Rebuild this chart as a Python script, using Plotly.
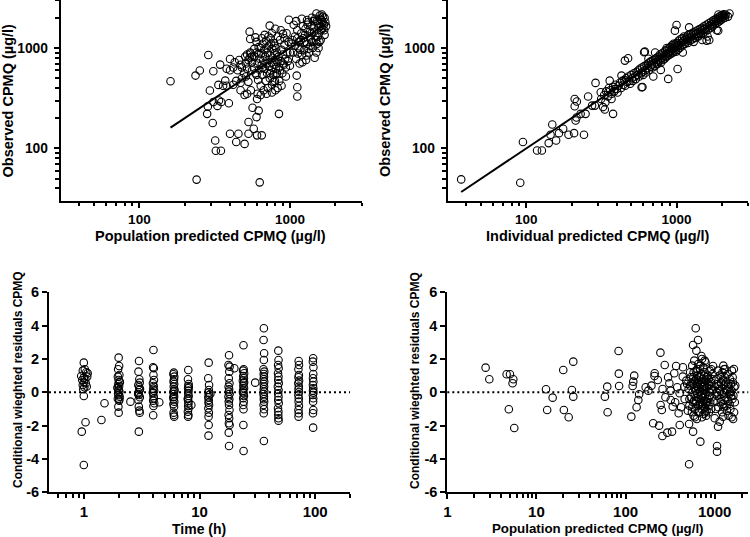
import plotly.graph_objects as go
import math

# ---------------- Panel 1: population predicted vs observed ----------------
pred_pop = [161,236,252,287,240,630,310,282,294,307,319,322,348,338,335,344,393,372,400,400,440,455,500,531,531,565,605,575,605,650,620,600,846,1110,1120,1120,1000,985,540,545,734,590,
            285,310,330,350,360,380,420,430,470,450,400,380,420,440,480,470,500,520,510,530,520,550,560,600,
            560,575,580,590,600,610,615,620,625,630,640,645,650,655,660,665,670,675,680,685,690,695,700,705,710,715,720,725,730,735,740,745,750,755,760,765,770,775,780,785,790,795,800,805,810,815,820,825,830,840,850,860,870,880,890,900,910,920,930,940,950,960,970,980,
            520,530,540,550,545,510,495,505,480,470,460,610,640,700,760,800,850,880,720,680,650,760,800,830,870,900,920,640,600,580,700,750,790,560,620,660,740,780,820,860,900,940,
            1020,1050,1080,1100,1120,1140,1160,1180,1200,1220,1240,1260,1280,1300,1320,1340,1360,1380,1400,1420,1440,1460,1480,1500,1520,1540,1560,1580,1600,1620,1640,1660,1680,1700,1720,
            1250,1350,1450,1550,1650,1150,1190,1230,1270,1310,1390,1430,1470,1510,1590,1630,1130,1170,1210,1290,1330,1370,1410,1490,1530,1570,1610,1690,1060,1100,1200,1300,1080,1120,1000,1040,1500,1550,1600,1700,1740]
obs_pop = [467,531,596,852,49,46,586,221,377,179,120,95,95,300,429,683,282,473,776,140,116,140,111,140,183,254,311,157,135,135,238,205,221,531,407,329,667,1911,1452,1228,1667,1275,
           262,290,265,290,420,620,640,720,680,600,600,420,430,470,500,380,340,350,520,760,860,880,820,540,
           720,640,820,560,900,700,480,1020,610,780,420,880,680,540,1100,750,380,960,620,820,470,1180,700,560,900,400,760,1050,650,500,840,1250,600,720,430,980,800,540,680,1120,880,470,760,620,1000,560,900,720,400,820,640,1200,740,960,560,860,680,1080,780,520,1400,900,740,1150,
           620,460,800,380,900,700,560,820,640,450,760,350,340,350,360,380,470,420,1300,1350,1250,1400,1550,1300,1500,1380,1250,1000,1150,980,1000,1100,1050,600,880,640,560,460,560,600,700,640,
           1100,900,1300,780,1500,1000,700,1200,850,1650,950,1350,760,1100,1800,900,1450,1200,2000,1000,1600,800,1300,2200,1100,1750,1400,2100,1200,1900,1550,2050,1700,1350,1800,
           1150,1300,1450,1600,1800,1150,1400,1250,1550,1700,1650,1850,1950,1850,1950,2150,880,960,720,840,980,1050,1150,1200,1300,1150,1500,1500,1700,1850,1950,1900,1050,1250,900,1200,900,1000,1650,2000,1650]

# ---------------- Panel 2: individual predicted vs observed ----------------
pred_ind = [36.9,91.2,95,118,127,141,145,149,158,165,176,191,208,210,210,217,213,216,230,242,248,258,274,289,286,313,315,324,333,336,359,369,378,388,430,453,476,
            330,340,350,355,362,370,378,385,392,400,405,412,420,428,435,442,450,455,462,470,478,485,492,500,505,512,520,528,535,542,550,558,565,572,580,588,595,600,610,618,625,632,640,648,655,662,670,678,685,692,700,708,715,722,730,738,745,752,760,768,775,782,790,798,805,812,820,828,835,842,850,858,865,872,880,888,895,902,910,918,925,932,940,948,955,962,970,978,985,992,
            1000,1010,1020,1030,1040,1050,1060,1070,1080,1090,1100,1110,1120,1130,1140,1150,1160,1170,1180,1190,1200,1215,1230,1245,1260,1275,1290,1305,1320,1335,1350,1365,1380,1395,1410,1425,1440,1455,1470,1485,1500,1520,1540,1560,1580,1600,1620,1640,1660,1680,1700,1720,1740,1760,1780,1800,1820,1840,1860,1880,1900,1920,1940,1960,1980,2000,2020,2040,2060,2080,2100,2120,1900,1850,1650,1480,1610,2250,2200,
            1000,1213,975,1892,1585,1016,785,593,615,608,880,585,700,650,720,860,1300,1100,1400]
obs_ind = [49.2,45.6,116,95.5,95.5,113,137,173,120,142,157,137,142,263,311,293,190,203,221,137,221,329,267,449,267,363,311,258,244,289,473,311,221,391,531,748,789,
           340,370,330,400,380,350,410,370,430,390,360,420,450,400,470,430,480,420,500,460,520,470,440,540,500,470,560,520,490,580,540,600,520,620,560,640,580,540,660,600,570,680,630,700,600,720,650,740,680,640,760,700,660,780,720,800,690,760,820,740,860,780,720,880,800,760,900,840,780,940,860,820,960,880,840,990,900,860,1020,940,880,1060,980,900,1100,1000,950,1080,1020,920,
           1120,1060,960,1180,1080,1000,1220,1120,1040,1250,1160,1080,1300,1200,1100,1240,1160,1300,1220,1120,1350,1260,1180,1380,1300,1220,1420,1340,1260,1460,1380,1300,1500,1420,1330,1540,1460,1380,1580,1500,1400,1640,1540,1460,1700,1600,1520,1760,1660,1580,1820,1720,1640,1880,1800,1720,1940,1860,1780,2000,1920,1840,2060,1980,1900,2120,2040,1960,2160,2080,2000,2140,2150,1500,1200,1200,1300,2200,2050,
           1692,1604,1486,1486,1183,618,605,408,919,906,492,407,520,780,900,1000,1150,900,1300]

# ---------------- Panel 3: CWRES vs time ----------------
t_c1 = [1.0,1.02,0.98,1.05,1.08,0.95,1.07,1.0,1.03,0.97,1.0,1.04,0.98,1.06,1.01,0.99,1.0,1.035,0.96,1.0]
r_c1 = [1.78,1.38,1.3,1.2,1.14,0.98,0.94,0.88,0.8,0.74,0.6,0.54,0.44,0.35,0.3,0.18,-0.22,-1.8,-2.36,-4.36]
t_c2 = [2.0,2.02,1.98,2.03,1.97,2.0,2.04,1.99,2.02,1.96,2.01,2.03,1.98,2.0,2.04,1.97,2.02,1.99,2.0,2.05,1.96,2.03]
r_c2 = [2.08,1.58,1.38,1.04,0.94,0.74,0.64,0.5,0.38,0.24,0.14,0.04,-0.06,-0.16,-0.26,-0.38,-0.5,-0.86,-1.22,0.6,0.3,-0.4]
t_c3 = [3.0,2.97,3.02,3.04,2.96,3.01,3.03,2.98,3.0,3.05,2.97,2.99,3.02,3.04,2.99,3.06,2.95]
r_c3 = [1.88,1.24,0.78,0.58,0.44,0.3,0.14,0.0,-0.16,-0.3,-0.46,-0.86,-1.1,-1.22,-2.36,0.2,-0.1]
t_c4 = [4.0,3.97,4.03,4.0,4.04,3.96,4.02,3.99,4.05,3.97,4.01,4.03,3.98,4.06,4.0,3.98,3.95]
r_c4 = [2.54,1.5,1.44,1.04,0.74,0.54,0.38,0.22,0.1,-0.06,-0.22,-0.36,-0.5,-0.66,-0.82,-1.38,0.0]
t_c6 = [6.0,5.95,6.05,6.02,5.97,6.04,5.99,6.06,5.96,6.01,6.03,5.98,6.05,5.95,6.02,5.97,6.0,6.04,6.07,5.93]
r_c6 = [1.18,1.08,0.94,0.78,0.64,0.5,0.34,0.18,0.04,-0.1,-0.26,-0.42,-0.56,-0.7,-0.86,-1.22,-1.36,-1.46,0.1,-0.3]
t_c8 = [8.0,7.95,8.05,8.02,7.97,8.04,7.99,8.06,7.96,8.01,8.03,7.98,8.05,7.94,8.02,7.97,8.08,7.92]
r_c8 = [1.34,0.78,0.5,0.38,0.24,0.1,-0.06,-0.22,-0.36,-0.52,-0.66,-0.82,-0.96,-1.16,-1.36,-1.46,0.3,-0.4]
t_c12 = [12.0,11.9,12.1,12.05,11.95,12.08,11.92,12.02,11.97,12.1,11.93,12.04,11.98,12.0,11.96,12.4]
r_c12 = [1.78,0.84,0.44,0.14,-0.02,-0.16,-0.3,-0.46,-0.62,-0.76,-0.96,-1.22,-1.46,-1.96,-2.6,-0.1]
t_c18 = [18.0,17.8,18.2,18.1,17.9,18.15,17.85,18.05,17.95,18.2,17.8,18.1,17.9,18.0,18.15,17.85,18.05,17.95,18.2,17.9,18.0]
r_c18 = [2.22,1.64,1.54,1.24,0.84,0.54,0.34,0.18,0.04,-0.1,-0.26,-0.42,-0.56,-0.76,-1.06,-1.36,-1.56,-1.86,-1.96,-2.42,-3.22]
t_c24 = [24.0,24.1,23.8,24.3,23.9,24.2,23.7,24.1,23.95,24.25,23.8,24.05,24.2,23.85,24.1,23.9,24.0,23.95,24.05,24.3,23.75]
r_c24 = [2.82,1.38,1.3,1.14,0.98,0.84,0.7,0.54,0.38,0.24,0.1,-0.06,-0.22,-0.36,-0.56,-0.76,-1.02,-1.96,-3.52,0.6,0.0]
t_c36 = [36.0,35.8,36.2,36.0,35.7,36.3,35.9,36.1,35.8,36.25,35.85,36.15,35.9,36.3,35.75,36.05,35.95,36.2,35.8,36.1,35.9,36.0]
r_c36 = [3.84,3.14,2.34,1.94,1.38,1.24,1.1,0.94,0.78,0.64,0.5,0.34,0.18,0.04,-0.1,-0.26,-0.42,-0.56,-0.76,-1.02,-1.26,-2.92]
t_c48 = [48.0,48.2,47.8,48.3,47.7,48.1,47.9,48.4,47.6,48.2,47.85,48.15,47.9,48.35,47.7,48.05,47.95,48.1,48.2]
r_c48 = [2.5,1.94,1.64,1.44,1.14,0.94,0.74,0.54,0.34,0.14,-0.06,-0.26,-0.46,-0.66,-0.96,-1.16,-1.36,-1.56,-1.7]
t_c72 = [72.0,72.4,71.6,72.3,71.7,72.5,71.5,72.2,71.8,72.4,71.6,72.1,71.9,72.3,71.7,72.0,71.8]
r_c72 = [1.88,1.64,1.38,1.04,0.9,0.7,0.54,0.34,0.18,0.02,-0.16,-0.36,-0.56,-0.82,-1.06,-1.26,-1.46]
t_c96 = [96.0,95.5,96.5,96.2,95.7,96.4,95.6,96.3,95.8,96.5,95.5,96.1,95.9,96.3,95.7,96.0]
r_c96 = [2.04,1.84,1.5,1.1,0.84,0.64,0.44,0.24,0.1,-0.02,-0.16,-0.36,-0.56,-1.06,-1.26,-2.12]
t_extra = [1.51,1.42,2.53,4.49,8.5,20.0,30.3]
r_extra = [-0.66,-1.66,-0.56,-0.6,-0.76,1.44,0.58]

time_h = t_c1 + t_c2 + t_c3 + t_c4 + t_c6 + t_c8 + t_c12 + t_c18 + t_c24 + t_c36 + t_c48 + t_c72 + t_c96 + t_extra
cwres_t = r_c1 + r_c2 + r_c3 + r_c4 + r_c6 + r_c8 + r_c12 + r_c18 + r_c24 + r_c36 + r_c48 + r_c72 + r_c96 + r_extra

# ---------------- Panel 4: CWRES vs population predicted ----------------
pred_pop4 = [2.69,2.96,4.63,5.05,4.9,5.5,5.4,5.64,12.8,13.2,15.2,20,20.3,23,25,25.9,25.9,58.6,62.3,62.9,83.5,84,84.6,120,122,125,116,133,139,142,
             168,212,204,238,246,259,275,294,332,405,516,572,690,516,1062,1062,1090,1137,1000,1240,958,1272,917,612,650,572,623,709,773,
             211,230,247,255,321,338,310,352,369,394,404,438,456,180,195,260,280,300,320,360,380,420,440,460,480,
             510,520,530,540,550,555,560,565,570,575,580,585,590,595,600,605,610,615,620,625,630,635,640,645,650,655,660,665,670,675,680,685,690,695,700,705,710,715,720,725,730,735,740,745,750,755,760,765,770,775,780,785,790,795,800,810,820,830,840,850,860,870,880,890,900,910,920,930,940,950,
             560,590,620,650,680,710,740,770,800,830,600,640,700,760,820,880,540,580,660,720,780,860,690,630,570,750,810,870,610,730,790,850,910,520,500,490,530,
             1000,1020,1040,1060,1080,1100,1120,1140,1160,1180,1200,1220,1240,1260,1280,1300,1320,1340,1360,1380,1400,1420,1440,1460,1480,1500,1520,1540,1560,1580,1600,1620,1640,1660,1680,1700,
             1050,1110,1170,1230,1290,1350,1410,1470,1530,1590,1650,1310,1250,1190,1370,1430,1550,1610,1490,1030,1090,1150,1210,1270]
cwres_p4 = [1.48,0.78,1.08,1.08,-1.02,0.78,0.54,-2.14,0.18,-1.06,-0.32,1.34,-1.06,-1.5,0.14,-0.26,1.84,-0.26,0.34,-1.2,2.48,1.12,0.38,0.38,0.64,1.0,-1.46,-0.9,-0.46,-0.12,
            0.3,1.14,-1.86,-2.0,2.38,-2.62,1.64,-2.42,-2.36,-1.96,-1.9,-2.36,-2.96,-4.32,-3.22,-3.56,-2.06,-1.76,-1.56,-1.46,1.58,1.38,1.38,3.84,3.14,2.84,2.5,2.18,1.9,
            0.98,0.74,-0.76,-1.06,-0.46,-0.86,0.54,1.14,1.58,-1.26,-0.06,0.94,0.34,0.1,0.4,0.2,-0.3,0.9,0.1,-0.6,0.3,-0.9,1.5,-0.4,0.7,
            0.2,-0.8,1.2,-0.3,0.6,-1.2,1.6,0.0,-0.6,0.9,-1.4,0.3,1.9,-0.2,0.7,-1.0,0.1,1.3,-0.5,0.4,-1.6,1.0,-0.1,0.6,-0.8,1.7,0.2,-0.4,0.9,-1.2,0.0,1.4,-0.6,0.5,-0.2,1.1,-1.0,0.3,2.0,-0.7,0.8,-0.3,0.1,1.5,-1.3,0.6,-0.5,0.2,1.2,-0.9,0.4,-0.1,1.8,-0.6,0.7,-1.1,0.3,-0.4,1.0,-0.8,0.5,-0.2,1.3,-0.6,0.2,-1.0,0.8,-0.3,0.1,1.1,
            -0.9,-0.5,0.8,0.3,-0.7,0.6,-0.8,-0.2,-1.4,0.6,-1.5,1.4,0.9,1.0,-0.6,0.0,0.9,1.2,-1.2,-1.5,-1.2,-1.2,1.6,0.5,0.5,0.4,0.9,0.4,-0.7,-0.1,-0.7,0.8,0.6,-0.4,-1.1,0.5,0.4,
            0.3,-0.5,0.8,-0.2,0.5,-0.9,0.2,1.0,-0.4,0.6,-0.1,1.2,-0.7,0.4,0.0,0.9,-0.3,0.6,-0.8,0.2,1.1,-0.5,0.3,-0.1,0.8,-1.0,0.5,0.1,1.3,-0.4,0.6,-0.2,1.4,0.3,-0.6,0.4,
            0.0,0.4,-0.6,0.7,-0.5,0.1,0.5,-0.7,-0.2,0.9,-1.2,1.4,1.6,0.9,-1.1,-1.4,-1.5,-1.6,0.0,-1.0,1.3,0.1,-1.2,-0.9]

# tick definitions
log_major_conc = [100, 1000]
log_minor_conc = [40, 50, 60, 70, 80, 90, 200, 300, 400, 500, 600, 700, 800, 900, 2000, 3000]
time_major = [1, 10, 100]
time_minor = [0.6, 0.7, 0.8, 0.9, 2, 3, 4, 5, 6, 7, 8, 9, 20, 30, 40, 50, 60, 70, 80, 90, 200]
p4_major = [1, 10, 100, 1000]
p4_minor = [2, 3, 4, 5, 6, 7, 8, 9, 20, 30, 40, 50, 60, 70, 80, 90, 200, 300, 400, 500, 600, 700, 800, 900, 2000]
res_ticks = [-6, -4, -2, 0, 2, 4, 6]

FONT = "Liberation Sans, Arial, sans-serif"
marker = dict(symbol="circle-open", size=7.5, color="black", line=dict(width=1.1))

fig = go.Figure()
fig.add_trace(go.Scatter(x=pred_pop, y=obs_pop, mode="markers", marker=marker, xaxis="x", yaxis="y"))
fig.add_trace(go.Scatter(x=[min(pred_pop), max(pred_pop)], y=[min(pred_pop), max(pred_pop)], mode="lines",
                         line=dict(color="black", width=2), xaxis="x", yaxis="y"))
fig.add_trace(go.Scatter(x=pred_ind, y=obs_ind, mode="markers", marker=marker, xaxis="x2", yaxis="y2"))
fig.add_trace(go.Scatter(x=[min(pred_ind), max(pred_ind)], y=[min(pred_ind), max(pred_ind)], mode="lines",
                         line=dict(color="black", width=2), xaxis="x2", yaxis="y2"))
fig.add_trace(go.Scatter(x=time_h, y=cwres_t, mode="markers", marker=marker, xaxis="x3", yaxis="y3"))
fig.add_trace(go.Scatter(x=pred_pop4, y=cwres_p4, mode="markers", marker=marker, xaxis="x4", yaxis="y4"))

def tf(size):
    return dict(family=FONT, size=size, color="black", weight="bold")

base = dict(showline=True, linecolor="black", linewidth=2, ticks="outside", ticklen=5, tickwidth=1.5,
            tickcolor="black", showgrid=False, zeroline=False)

def logaxis(rng, major, minor, domain, anchor, fsize, standoff):
    d = dict(base)
    d.update(type="log", range=[math.log10(rng[0]), math.log10(rng[1])], tickmode="array",
             tickvals=major, ticktext=[str(v) for v in major], domain=domain, anchor=anchor,
             tickfont=tf(fsize), ticklabelstandoff=standoff,
             minor=dict(ticks="outside", ticklen=3.5, tickwidth=1.5, tickcolor="black", tickvals=minor, showgrid=False))
    return d

def linaxis(rng, ticks, domain, anchor, fsize, standoff):
    d = dict(base)
    d.update(range=rng, tickmode="array", tickvals=ticks, ticktext=[str(v) for v in ticks], domain=domain,
             anchor=anchor, tickfont=tf(fsize), ticklabelstandoff=standoff)
    return d

top_y = [0.6257, 1.0]
bot_y = [0.0832, 0.4557]
fig.update_layout(
    width=750, height=537, margin=dict(l=0, r=0, t=0, b=0, autoexpand=False),
    paper_bgcolor="white", plot_bgcolor="white", showlegend=False,
    xaxis=logaxis([30, 3000], log_major_conc, log_minor_conc, [0.0809, 0.4823], "y", 13.5, 0),
    yaxis=logaxis([30, 3000], log_major_conc, log_minor_conc, top_y, "x", 13.8, 3),
    xaxis2=logaxis([30, 3000], log_major_conc, log_minor_conc, [0.5969, 0.9977], "y2", 13.5, 0),
    yaxis2=logaxis([30, 3000], log_major_conc, log_minor_conc, top_y, "x2", 13.8, 3),
    xaxis3=logaxis([0.5, 200], time_major, time_minor, [0.0653, 0.4667], "y3", 15, 0),
    yaxis3=linaxis([-6, 6], res_ticks, bot_y, "x3", 14.5, 0),
    xaxis4=logaxis([1, 2380], p4_major, p4_minor, [0.5964, 0.9977], "y4", 15, 0),
    yaxis4=linaxis([-6, 6], res_ticks, bot_y, "x4", 14.5, 0),
)

for xr, yr in (("x3", "y3"), ("x4", "y4")):
    fig.add_shape(type="line", xref=f"{xr} domain", yref=yr, x0=0, x1=1, y0=0, y1=0,
                  line=dict(color="black", width=2, dash="2px,3px"), layer="below")

ann = [
    ("Observed CPMQ (µg/l)", 0.0113, 0.8138, -90, 14.5),
    ("Population predicted CPMQ (µg/l)", 0.2813, 0.5610, 0, 14.5),
    ("Observed CPMQ (µg/l)", 0.5133, 0.8138, -90, 14.5),
    ("Individual predicted CPMQ (µg/l)", 0.7973, 0.5610, 0, 14.5),
    ("Conditional wieghted residuals CPMQ", 0.024, 0.2924, -90, 12),
    ("Time (h)", 0.2653, 0.0150, 0, 14),
    ("Conditional wieghted residuals CPMQ", 0.5533, 0.2924, -90, 12),
    ("Population predicted CPMQ (µg/l)", 0.7973, 0.0150, 0, 13.3),
]
for text, x, y, ang, fs in ann:
    fig.add_annotation(text=text, x=x, y=y, xref="paper", yref="paper", showarrow=False,
                       textangle=ang, xanchor="center", yanchor="middle", font=tf(fs))

fig.write_html("out.html", config={"displayModeBar": False},
               post_script="document.body.style.margin='0';")
